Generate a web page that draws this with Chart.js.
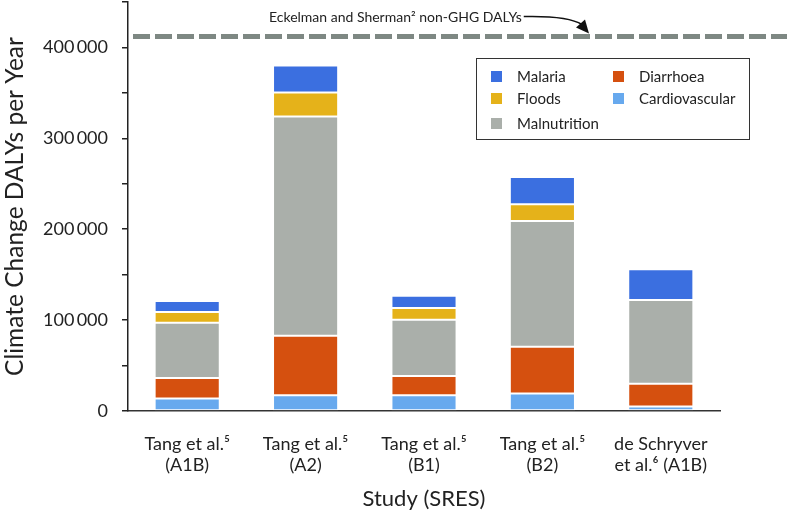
<!DOCTYPE html>
<html>
<head>
<meta charset="utf-8">
<script src="https://cdn.jsdelivr.net/npm/chart.js@4/dist/chart.umd.min.js"></script>
<style>
html,body{margin:0;padding:0;background:#fff;}
#wrap{position:relative;width:787px;height:515px;}
</style>
</head>
<body>
<div id="wrap"><canvas id="c" width="787" height="515"></canvas></div>
<script>
// ---- data ----
const categories = [
  ['Tang et al.\u2075', '(A1B)'],
  ['Tang et al.\u2075', '(A2)'],
  ['Tang et al.\u2075', '(B1)'],
  ['Tang et al.\u2075', '(B2)'],
  ['de Schryver', 'et al.\u2076 (A1B)']
];
const cardiovascular = [13700, 17400, 17400, 19200, 5000];
const diarrhoea      = [22600, 65400, 21100, 51500, 25000];
const malnutrition   = [60700, 241200, 61800, 138300, 92000];
const floods         = [12000, 26500, 13100, 18500, 0];
const malaria        = [12000, 29700, 13300, 30000, 34000];
const referenceLabel = 'Eckelman and Sherman\u00b2 non-GHG DALYs';
const referenceValue = 412000;
const yTitle = 'Climate Change DALYs per Year';
const xTitle = 'Study (SRES)';

const COLORS = {
  Malaria: '#3B6FE0',
  Floods: '#E5B21A',
  Malnutrition: '#AAAFAA',
  Diarrhoea: '#D5500F',
  Cardiovascular: '#67A9EE'
};
const FONT = 'Lato, "Open Sans", sans-serif';

function ds(label, data) {
  return {
    label, data,
    backgroundColor: COLORS[label],
    borderColor: '#ffffff',
    borderWidth: 1,
    borderSkipped: false,
    barPercentage: 0.55,
    categoryPercentage: 1.0
  };
}

const legendLayout = [
  {label: 'Malaria', col: 0, row: 0},
  {label: 'Diarrhoea', col: 1, row: 0},
  {label: 'Floods', col: 0, row: 1},
  {label: 'Cardiovascular', col: 1, row: 1},
  {label: 'Malnutrition', col: 0, row: 2}
];

const extras = {
  id: 'extras',
  afterDatasetsDraw(chart) {
    const ctx = chart.ctx;
    const y = chart.scales.y.getPixelForValue(referenceValue);
    const left = chart.chartArea.left;
    ctx.save();
    // reference dashed line
    ctx.strokeStyle = '#7E8883';
    ctx.lineWidth = 5;
    ctx.setLineDash([17, 5]);
    ctx.beginPath();
    ctx.moveTo(left + 5, y);
    ctx.lineTo(chart.width, y);
    ctx.stroke();
    ctx.setLineDash([]);
    // annotation text
    ctx.fillStyle = '#222';
    ctx.font = '14px ' + FONT;
    ctx.textBaseline = 'middle';
    ctx.textAlign = 'left';
    const tx = 269, ty = y - 19;
    ctx.fillText(referenceLabel, tx, ty);
    const tw = ctx.measureText(referenceLabel).width;
    // curved arrow
    const sx = tx + tw + 2, sy = ty - 1;
    const ex = 586, ey = y - 4;
    ctx.strokeStyle = '#111';
    ctx.lineWidth = 1.6;
    ctx.beginPath();
    ctx.moveTo(sx, sy);
    ctx.quadraticCurveTo(568, sy - 1, ex - 4, ey - 8);
    ctx.stroke();
    ctx.fillStyle = '#111';
    ctx.beginPath();
    ctx.moveTo(ex + 3, ey + 1);
    ctx.lineTo(ex - 10, ey - 5);
    ctx.lineTo(ex - 1, ey - 13);
    ctx.closePath();
    ctx.fill();

    // legend box
    const colX = [491, 613];
    const rowY = [77, 99, 124];
    ctx.font = '15px ' + FONT;
    let maxRight = 0;
    legendLayout.forEach(it => {
      const w = ctx.measureText(it.label).width;
      maxRight = Math.max(maxRight, colX[it.col] + 26 + w);
    });
    const bx = 476.5, by = 58.5, bw = Math.round(maxRight + 14 - bx), bh = 81;
    ctx.fillStyle = '#fff';
    ctx.fillRect(bx, by, bw, bh);
    ctx.strokeStyle = '#333';
    ctx.lineWidth = 1;
    ctx.strokeRect(bx, by, bw, bh);
    ctx.textBaseline = 'middle';
    legendLayout.forEach(it => {
      const d = chart.data.datasets.find(s => s.label === it.label);
      const x = colX[it.col], yy = rowY[it.row];
      ctx.fillStyle = d.backgroundColor;
      ctx.fillRect(x, yy - 6, 11, 11);
      ctx.fillStyle = '#222';
      ctx.fillText(d.label, x + 26, yy);
    });
    ctx.restore();
  }
};

function zeroPad(s) { s.paddingTop = 0; s.paddingBottom = 0; s.paddingLeft = 0; s.paddingRight = 0; }

new Chart(document.getElementById('c'), {
  type: 'bar',
  data: {
    labels: categories,
    datasets: [
      ds('Cardiovascular', cardiovascular),
      ds('Diarrhoea', diarrhoea),
      ds('Malnutrition', malnutrition),
      ds('Floods', floods),
      ds('Malaria', malaria)
    ]
  },
  options: {
    responsive: false,
    animation: false,
    layout: {padding: {top: 2, right: 67, left: 0, bottom: 0}},
    plugins: {legend: {display: false}, tooltip: {enabled: false}},
    scales: {
      x: {
        stacked: true,
        grid: {display: false},
        border: {display: true, color: '#333', width: 1.5},
        ticks: {color: '#222', font: {family: FONT, size: 18}, padding: 14, maxRotation: 0, autoSkip: false},
        title: {display: true, text: xTitle, color: '#222', font: {family: FONT, size: 22}, padding: {top: 0, bottom: 3}},
        afterFit(s) { s.height = 104; zeroPad(s); }
      },
      y: {
        stacked: true,
        min: 0, max: 450000,
        grid: {display: true, drawOnChartArea: false, drawTicks: true, tickLength: 6, color: '#222', lineWidth: 1.5},
        border: {display: true, color: '#222', width: 1.5},
        ticks: {
          stepSize: 50000,
          color: '#222',
          font: {family: FONT, size: 18},
          padding: 14,
          callback: v => (v % 100000 === 0) ? (v === 0 ? '0' : (v / 1000) + '\u2009000') : ''
        },
        title: {display: true, text: yTitle, color: '#222', font: {family: FONT, size: 24.5}, padding: {top: 0, bottom: 0}},
        afterFit(s) { s.width = 128; zeroPad(s); }
      }
    }
  },
  plugins: [extras]
});
</script>
</body>
</html>
